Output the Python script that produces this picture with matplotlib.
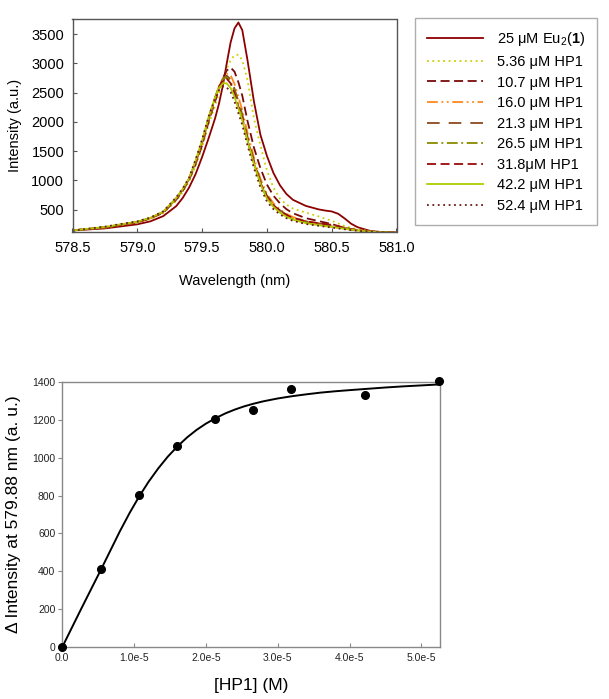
import matplotlib
matplotlib.use("Agg")
import matplotlib.pyplot as plt

plt.rcParams['font.family'] = ['Liberation Sans', 'DejaVu Sans']
plt.rcParams['mathtext.fontset'] = 'custom'
plt.rcParams['mathtext.rm'] = 'Liberation Sans'
plt.rcParams['mathtext.bf'] = 'Liberation Sans:bold'

# ---------------- data: spectra ----------------
wavelength = [578.5, 578.75, 579.0, 579.1, 579.2, 579.3, 579.35, 579.4, 579.45, 579.5,
              579.55, 579.6, 579.63, 579.66, 579.69, 579.72, 579.75, 579.78, 579.81, 579.85,
              579.9, 579.95, 580.0, 580.05, 580.1, 580.15, 580.2, 580.3, 580.4, 580.45,
              580.5, 580.55, 580.6, 580.65, 580.7, 580.8, 580.9, 581.0]

eu_only = [145, 180, 250, 300, 390, 560, 700, 880, 1110, 1400,
           1720, 2060, 2310, 2620, 3000, 3360, 3600, 3700, 3570, 3060,
           2350, 1780, 1420, 1130, 920, 770, 670, 565, 505, 485,
           470, 430, 350, 260, 200, 135, 115, 108]
hp1_536 = [145, 195, 280, 340, 440, 650, 800, 990, 1250, 1570,
           1950, 2280, 2480, 2700, 2900, 3060, 3140, 3150, 3060, 2720,
           2060, 1600, 1170, 880, 690, 590, 520, 450, 385, 345,
           310, 265, 220, 190, 165, 130, 115, 108]
hp1_107 = [145, 195, 285, 350, 450, 670, 820, 1010, 1280, 1600,
           2000, 2350, 2560, 2750, 2880, 2930, 2860, 2680, 2450, 2020,
           1560, 1210, 930, 740, 610, 510, 440, 355, 305, 280,
           255, 220, 190, 165, 150, 125, 112, 106]
hp1_160 = [145, 195, 285, 350, 455, 680, 830, 1020, 1300, 1620,
           2030, 2380, 2580, 2740, 2825, 2800, 2650, 2430, 2200, 1820,
           1390, 1030, 770, 610, 505, 430, 375, 305, 262, 245,
           228, 205, 185, 165, 150, 125, 112, 106]
hp1_213 = [145, 200, 290, 355, 460, 690, 840, 1030, 1310, 1640,
           2050, 2400, 2600, 2740, 2790, 2730, 2570, 2350, 2130, 1750,
           1340, 990, 740, 590, 490, 415, 365, 300, 265, 250,
           235, 210, 185, 165, 150, 125, 112, 106]
hp1_265 = [145, 200, 290, 355, 460, 690, 840, 1030, 1320, 1650,
           2060, 2410, 2610, 2730, 2765, 2690, 2520, 2290, 2080, 1700,
           1300, 950, 705, 560, 460, 390, 340, 280, 245, 230,
           215, 195, 175, 158, 145, 122, 110, 105]
hp1_318 = [145, 200, 290, 355, 460, 690, 840, 1030, 1320, 1650,
           2060, 2410, 2600, 2710, 2740, 2660, 2490, 2260, 2060, 1690,
           1300, 960, 720, 580, 480, 410, 360, 300, 270, 255,
           240, 215, 190, 168, 150, 125, 112, 106]
hp1_422 = [145, 205, 295, 360, 465, 700, 850, 1040, 1340, 1680,
           2080, 2420, 2580, 2660, 2660, 2580, 2430, 2230, 2030, 1680,
           1280, 940, 690, 550, 450, 380, 330, 270, 235, 218,
           205, 190, 175, 158, 145, 122, 110, 105]
hp1_524 = [140, 210, 300, 365, 470, 710, 860, 1050, 1360, 1700,
           2090, 2400, 2540, 2605, 2590, 2510, 2350, 2150, 1950, 1600,
           1210, 880, 640, 510, 420, 355, 310, 255, 225, 210,
           195, 180, 165, 150, 140, 120, 108, 104]

spectra = [eu_only, hp1_536, hp1_107, hp1_160, hp1_213, hp1_265, hp1_318, hp1_422, hp1_524]
labels = [r'25 μM Eu$_2$($\mathbf{1}$)', '5.36 μM HP1', '10.7 μM HP1', '16.0 μM HP1',
          '21.3 μM HP1', '26.5 μM HP1', '31.8μM HP1', '42.2 μM HP1', '52.4 μM HP1']
colors = ['#8B0000', '#C8D000', '#7A0A0A', '#FF8A1C', '#8B4A1C', '#8A8A00', '#9A0A0A',
          '#B0CC00', '#701818']
styles = ['-', (0, (1, 2)), (0, (5, 2.5)), (0, (6, 2, 1, 2, 1, 2)), (0, (7, 5)),
          (0, (6, 2, 1, 2)), (0, (5, 2.5)), '-', (0, (1, 2))]

# ---------------- data: titration ----------------
hp1_conc = [0.0, 0.536e-5, 1.07e-5, 1.60e-5, 2.13e-5, 2.65e-5, 3.18e-5, 4.22e-5, 5.24e-5]
delta_int = [0, 410, 805, 1060, 1203, 1252, 1365, 1331, 1404]
fit_conc = [0.0, 0.265e-5, 0.536e-5, 0.80e-5, 0.94e-5, 1.07e-5, 1.20e-5, 1.335e-5, 1.47e-5,
            1.604e-5, 1.74e-5, 1.87e-5, 2.0e-5, 2.14e-5, 2.27e-5, 2.40e-5, 2.53e-5, 2.66e-5,
            2.8e-5, 3.0e-5, 3.2e-5, 3.4e-5, 3.6e-5, 3.8e-5, 4.0e-5, 4.25e-5, 4.5e-5,
            4.75e-5, 5.0e-5, 5.24e-5]
fit_int = [0, 203, 407, 610, 710, 795, 872, 943, 1006,
           1060, 1108, 1147, 1180, 1210, 1234, 1254, 1271, 1285,
           1298, 1313, 1325, 1335, 1344, 1351, 1357, 1364, 1371,
           1377, 1382, 1387]
x_ticks = [0.0, 1e-5, 2e-5, 3e-5, 4e-5, 5e-5]
x_ticklabels = ['0.0', '1.0e-5', '2.0e-5', '3.0e-5', '4.0e-5', '5.0e-5']
y_ticks = [0, 200, 400, 600, 800, 1000, 1200, 1400]

W, H = 609, 699
fig = plt.figure(figsize=(W / 100, H / 100), dpi=100)

# ---------------- top: spectra ----------------
ax1 = fig.add_axes([72.5 / W, 1 - 232.5 / H, 324 / W, 213.5 / H])
handles = []
for y, lab, c, ls in zip(spectra, labels, colors, styles):
    h, = ax1.plot(wavelength, y, color=c, linestyle=ls, linewidth=1.3, label=lab)
    handles.append(h)
ax1.set_xlim(578.5, 581.0)
ax1.set_ylim(110, 3760)
ax1.set_xticks([578.5, 579.0, 579.5, 580.0, 580.5, 581.0])
ax1.set_xticklabels(['578.5', '579.0', '579.5', '580.0', '580.5', '581.0'])
ax1.set_yticks([500, 1000, 1500, 2000, 2500, 3000, 3500])
ax1.tick_params(direction='in', length=3, width=0.8, colors='#555555', labelcolor='black',
                labelsize=10.5, pad=6)
for s in ax1.spines.values():
    s.set_color('#555555')
    s.set_linewidth(1.0)
ax1.set_xlabel('Wavelength (nm)', fontsize=10.5, labelpad=14)
ax1.set_ylabel('Intensity (a.u.)', fontsize=10.5, labelpad=7)

leg = fig.legend(handles=handles, loc='upper left', bbox_to_anchor=(415 / W, 1 - 18 / H),
                 bbox_transform=fig.transFigure, fontsize=10.5, frameon=True, fancybox=False,
                 handlelength=3.8, handletextpad=0.95, labelspacing=0.45, borderpad=0.85,
                 borderaxespad=0)
leg.get_frame().set_edgecolor('#999999')
leg.get_frame().set_linewidth(1.0)

# ---------------- bottom: titration ----------------
ax2 = fig.add_axes([62.3 / W, 1 - 647 / H, (440 - 62.3) / W, (647 - 382) / H])
ax2.plot(fit_conc, fit_int, color='black', linewidth=1.4, zorder=2)
ax2.plot(hp1_conc, delta_int, 'o', color='black', markersize=5.5, zorder=3, clip_on=False)
ax2.set_xlim(0, 5.26e-5)
ax2.set_ylim(0, 1400)
ax2.set_xticks(x_ticks)
ax2.set_xticklabels(x_ticklabels)
ax2.set_yticks(y_ticks)
ax2.tick_params(axis='x', direction='in', length=3, width=0.8, colors='#888888',
                labelcolor='#222222', labelsize=7.5, pad=4)
ax2.tick_params(axis='y', direction='out', length=3, width=0.8, colors='#888888',
                labelcolor='#222222', labelsize=7.5, pad=2)
for s in ax2.spines.values():
    s.set_color('#888888')
    s.set_linewidth(1.0)
ax2.set_xlabel('[HP1] (M)', fontsize=12.5, labelpad=11)
ax2.set_ylabel('Δ Intensity at 579.88 nm (a. u.)', fontsize=12.5, labelpad=8)

fig.savefig('out.png', dpi=100)
